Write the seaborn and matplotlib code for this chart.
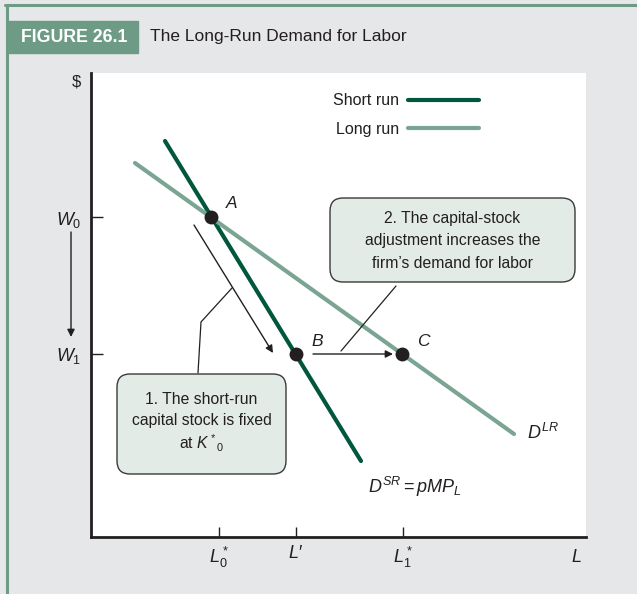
import numpy as np
import pandas as pd
import seaborn as sns
import matplotlib.pyplot as plt
from matplotlib.patches import FancyBboxPatch, Rectangle
from matplotlib.lines import Line2D

# curve end points (L, W), in pixel-like units
short_run_L = [74, 270]
short_run_W = [396, 76]
long_run_L = [44, 423]
long_run_W = [374, 103]

point_names = ["A", "B", "C"]
point_L = [120, 205, 311]
point_W = [320, 183, 183]

wage_ticks = [320, 183]
wage_labels = ["$W_0$", "$W_1$"]
labor_ticks = [128, 205, 312]
labor_labels = ["$L^*_0$", "$L$\u2032", "$L^*_1$"]

DARK = "#00573d"
LIGHT = "#7aa592"
HEAD = "#6d9b86"
BG = "#e6e7e8"
INK = "#231f20"
BOX = "#e3ebe7"
FONT = "Liberation Sans"

sns.set_style("white")
plt.rcParams["font.family"] = [FONT, "DejaVu Sans"]
plt.rcParams["mathtext.fontset"] = "custom"
plt.rcParams["mathtext.rm"] = FONT
plt.rcParams["mathtext.it"] = FONT + ":italic"
plt.rcParams["mathtext.bf"] = FONT + ":bold"

df = pd.DataFrame({
    "L": short_run_L + long_run_L,
    "W": short_run_W + long_run_W,
    "run": ["Short run"] * 2 + ["Long run"] * 2,
})
pts = pd.DataFrame({"L": point_L, "W": point_W, "name": point_names})

fig = plt.figure(figsize=(6.37, 5.94), dpi=100, facecolor=BG)
ax = fig.add_axes([91 / 637, 57 / 594, 495 / 637, 464 / 594])
ax.set_facecolor("white")

sns.lineplot(data=df, x="L", y="W", hue="run", hue_order=["Short run", "Long run"],
             palette={"Short run": DARK, "Long run": LIGHT}, lw=3, ax=ax,
             estimator=None, sort=False)
sns.scatterplot(data=pts, x="L", y="W", color=INK, s=100, linewidth=0, zorder=5,
                ax=ax, legend=False)

ax.set_xlim(0, 495)
ax.set_ylim(0, 464)
for s in ["top", "right"]:
    ax.spines[s].set_visible(False)
for s in ["left", "bottom"]:
    ax.spines[s].set_color(INK)
    ax.spines[s].set_linewidth(2)

ax.set_yticks(wage_ticks, wage_labels, fontsize=13, color=INK)
ax.set_xticks(labor_ticks, labor_labels, fontsize=13, color=INK)
ax.tick_params(axis="y", direction="in", length=8.5, width=1, color=INK, pad=7, left=True)
ax.tick_params(axis="x", direction="in", length=7, width=1, color=INK, pad=6, bottom=True)
ax.set_xlabel("")
ax.set_ylabel("")
ax.text(-10, 455, "\\$", fontsize=12, color=INK, ha="right", va="center")
ax.text(491, -20, "$L$", fontsize=13, color=INK, ha="right", va="center", clip_on=False)

leg = ax.legend(loc="center", bbox_to_anchor=(0.636, 0.909), markerfirst=False,
                frameon=False, fontsize=11.5, handlelength=4.4, handletextpad=0.6,
                labelspacing=0.85, title=None)
for t in leg.get_texts():
    t.set_color(INK)

for name, x, y in zip(point_names, point_L, point_W):
    ax.text(x + 21, y + 13, name, fontsize=12.5, style="italic", color=INK,
            ha="center", va="center")

ax.text(436, 104, "$D^{LR}$", fontsize=13, color=INK, ha="left", va="center")
ax.text(277, 50, "$D^{SR} = pMP_L$", fontsize=13, color=INK, ha="left", va="center")

arrow = dict(arrowstyle="-|>", color=INK, lw=1, mutation_scale=11, shrinkA=0, shrinkB=0)
ax.annotate("", xy=(182, 184), xytext=(103, 312), arrowprops=arrow)
ax.annotate("", xy=(302, 183), xytext=(222, 183), arrowprops=arrow)
ax.annotate("", xy=(-20, 200), xytext=(-20, 305), arrowprops=arrow, annotation_clip=False)

ax.plot([107, 110, 141], [164, 215, 249], color=INK, lw=0.9)
ax.plot([250, 305], [186, 251], color=INK, lw=0.9)

ax.add_patch(FancyBboxPatch((26, 63), 169, 100, boxstyle="round,pad=0,rounding_size=13",
                            fc=BOX, ec="#3a3a3a", lw=1, zorder=6))
for y, s in zip([137, 116, 94], ["1. The short-run", "capital stock is fixed", "at $K^*{}_0$"]):
    ax.text(110.5, y, s, fontsize=11.3, color=INK, ha="center", va="center", zorder=7)

ax.add_patch(FancyBboxPatch((239, 255), 245, 84, boxstyle="round,pad=0,rounding_size=13",
                            fc=BOX, ec="#3a3a3a", lw=1, zorder=6))
for y, s in zip([319, 296, 273], ["2. The capital-stock", "adjustment increases the",
                                  "firm\u2019s demand for labor"]):
    ax.text(361.5, y, s, fontsize=11.3, color=INK, ha="center", va="center", zorder=7)

# frame and header
fig.add_artist(Line2D([5 / 637, 1], [1 - 5 / 594] * 2, color=HEAD, lw=2.2))
fig.add_artist(Line2D([7 / 637] * 2, [0, 1 - 5 / 594], color=HEAD, lw=2.2))
fig.add_artist(Rectangle((7 / 637, 1 - 53 / 594), 131 / 637, 32 / 594, color=HEAD,
                         transform=fig.transFigure))
fig.text(74.5 / 637, 1 - 37 / 594, "FIGURE 26.1", color="white", fontsize=12.8,
         weight="bold", ha="center", va="center")
fig.text(150 / 637, 1 - 37 / 594, "The Long-Run Demand for Labor", color=INK,
         fontsize=12.5, ha="left", va="center")

fig.savefig("out.png", dpi=100, facecolor=BG)
